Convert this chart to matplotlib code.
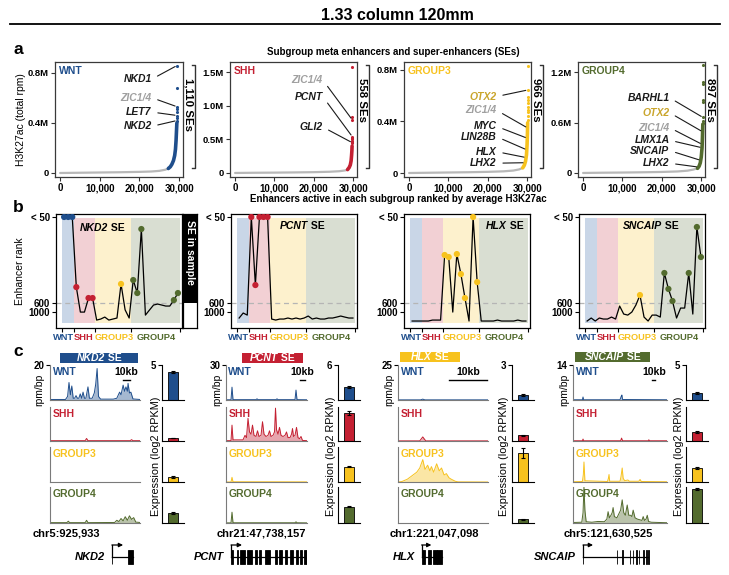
import numpy as np
import matplotlib
matplotlib.use('Agg')
import matplotlib.pyplot as plt
from matplotlib.patches import Rectangle
from matplotlib.lines import Line2D
from matplotlib.transforms import blended_transform_factory

plt.rcParams['font.family'] = ['Liberation Sans', 'DejaVu Sans']
plt.rcParams['axes.linewidth'] = 0.9

# ======================= DATA =======================
groups = ['WNT', 'SHH', 'GROUP3', 'GROUP4']

# ---- panel a: ranked enhancer signal (M total rpm) ----
a_x_ticks = [0, 10000, 20000, 30000]
a_x_ticklabels = ['0', '10,000', '20,000', '30,000']
a_y_ticks = [[0, 0.4, 0.8], [0, 0.5, 1.0, 1.5], [0, 0.4, 0.8], [0, 0.6, 1.2]]
a_y_ticklabels = [['0', '0.4M', '0.8M'], ['0', '0.5M', '1.0M', '1.5M'],
                  ['0', '0.4M', '0.8M'], ['0', '0.6M', '1.2M']]
a_y_lim = [(-0.032, 0.888), (-0.06, 1.65), (-0.031, 0.862), (-0.048, 1.32)]
se_count_labels = ['1,110 SEs', '558 SEs', '966 SEs', '897 SEs']

wnt_bg_rank = [0, 5000, 10000, 15000, 20000, 23000, 25000, 26500, 27300]
wnt_bg_signal = [0.0, 0.002, 0.004, 0.006, 0.009, 0.012, 0.017, 0.026, 0.036]
wnt_se_rank = [27300, 27800, 28200, 28600, 28900, 29100, 29250, 29350, 29450]
wnt_se_signal = [0.036, 0.05, 0.07, 0.10, 0.14, 0.19, 0.26, 0.33, 0.40]
wnt_top_signal = [0.86, 0.68, 0.53, 0.51, 0.49, 0.46, 0.44, 0.42]

shh_bg_rank = [0, 5000, 10000, 15000, 20000, 24000, 26500, 28000, 28600]
shh_bg_signal = [0.0, 0.003, 0.005, 0.008, 0.012, 0.018, 0.026, 0.038, 0.05]
shh_se_rank = [28600, 29000, 29300, 29500, 29620, 29700, 29750]
shh_se_signal = [0.05, 0.08, 0.12, 0.18, 0.26, 0.33, 0.40]
shh_top_signal = [1.58, 0.83, 0.79, 0.54, 0.52, 0.50, 0.48, 0.46, 0.44]

g3_bg_rank = [0, 5000, 10000, 15000, 20000, 24000, 26500, 28000, 28900]
g3_bg_signal = [0.0, 0.002, 0.004, 0.006, 0.009, 0.013, 0.019, 0.028, 0.04]
g3_se_rank = [28900, 29300, 29600, 29850, 30000, 30100, 30150]
g3_se_signal = [0.04, 0.06, 0.09, 0.14, 0.22, 0.31, 0.39]
g3_top_signal = [0.83, 0.645, 0.59, 0.57, 0.54, 0.51, 0.49, 0.47, 0.44, 0.41]

g4_bg_rank = [0, 5000, 10000, 15000, 20000, 24000, 26500, 28000, 29100]
g4_bg_signal = [0.0, 0.003, 0.005, 0.008, 0.012, 0.018, 0.027, 0.04, 0.055]
g4_se_rank = [29100, 29500, 29800, 30050, 30250, 30350, 30450]
g4_se_signal = [0.055, 0.08, 0.12, 0.19, 0.30, 0.42, 0.58]
g4_top_signal = [1.28, 1.08, 1.06, 0.87, 0.84, 0.67, 0.62, 0.60]

top_rank = [29500, 29800, 30200, 30500]

a_gene_names = [['NKD1', 'ZIC1/4', 'LET7', 'NKD2'],
                ['ZIC1/4', 'PCNT', 'GLI2'],
                ['OTX2', 'ZIC1/4', 'MYC', 'LIN28B', 'HLX', 'LHX2'],
                ['BARHL1', 'OTX2', 'ZIC1/4', 'LMX1A', 'SNCAIP', 'LHX2']]
a_gene_signal = [[0.86, 0.53, 0.46, 0.42],
                 [0.79, 0.54, 0.45],
                 [0.645, 0.35, 0.27, 0.18, 0.12, 0.08],
                 [0.66, 0.49, 0.34, 0.30, 0.15, 0.07]]

# ---- panel b: enhancer rank per sample ----
n_samples = [3, 5, 9, 12]
b_se_names = ['NKD2', 'PCNT', 'HLX', 'SNCAIP']
b_rank_nkd2 = [50, 50, 50, 498, 1000, 1000, 568, 568, 17800, 15650, 11500, 17800, 15650,
               13500, 478, 900, 13500, 453, 536, 127, 7330, 909, 688, 644, 688, 733, 733, 581, 536]
b_rank_pcnt = [13500, 2990, 7330, 50, 485, 50, 50, 50, 15650, 17800, 15650, 15650, 13500,
               15650, 13500, 15650, 13500, 9320, 15650, 13500, 15650, 15650, 13500, 13500,
               11500, 9320, 11500, 13500, 13500]
b_rank_hlx = [19800, 19800, 19800, 19800, 19800, 17800, 17800, 17800, 293, 306, 1000, 287,
              415, 568, 19800, 50, 466, 19800, 19800, 19800, 19800, 17800, 19800, 19800,
              19800, 19800, 17800, 19800, 19800]
b_rank_sncaip = [19800, 13500, 19800, 13500, 15650, 15650, 11500, 15650, 733, 5160, 7330,
                 1000, 688, 549, 11500, 19800, 7330, 7330, 11500, 408, 510, 587, 13500, 822,
                 822, 408, 5160, 114, 306]
rank_ticks = [50, 600, 1000]
rank_ticklabels = ['< 50', '600', '1000']

# ---- panel c: ChIP tracks (kb, rpm/bp), expression, gene models ----
c_genes = ['NKD2', 'PCNT', 'HLX', 'SNCAIP']
c_chr = ['chr5:925,933', 'chr21:47,738,157', 'chr1:221,047,098', 'chr5:121,630,525']
c_window_kb = [128, 162, 24, 300]
c_track_max = [20, 30, 25, 14]

nkd2_wnt_x = [0, 22, 25, 27, 29, 31, 33, 35, 37, 39, 41, 43, 45, 47, 49, 51, 54, 56, 60, 63,
              65, 67, 69, 72, 90, 95, 99, 101, 104, 106, 108, 110, 111, 113, 115, 118, 128]
nkd2_wnt_y = [0.3, 0.3, 2, 10, 3, 8, 1, 1, 2.5, 1, 1, 3.5, 1, 4.5, 1, 1, 7.5, 1, 1, 4,
              9, 18, 2, 0.5, 0.5, 1, 4.5, 3, 8.5, 5, 7.5, 5, 9.5, 4, 4.5, 0.6, 0.3]
nkd2_shh_x = [0, 50, 52, 54, 114, 116, 118, 128]
nkd2_shh_y = [0.2, 0.2, 1.5, 0.2, 0.2, 0.8, 0.2, 0.2]
nkd2_g3_x = [0, 128]
nkd2_g3_y = [0.1, 0.1]
nkd2_g4_x = [0, 24, 26, 28, 50, 52, 54, 92, 95, 98, 101, 104, 107, 110, 113, 116, 119, 122, 128]
nkd2_g4_y = [0.2, 0.2, 1.0, 0.2, 0.2, 1.5, 0.2, 0.3, 1.5, 0.8, 2.5, 1.2, 3.5, 1.5, 4, 2, 3, 0.5, 0.3]

pcnt_wnt_x = [0, 10, 12, 14, 60, 62, 64, 100, 102, 104, 138, 140, 142, 162]
pcnt_wnt_y = [0.2, 0.2, 11, 0.3, 0.3, 1.0, 0.3, 0.3, 1.0, 0.3, 0.3, 8.5, 0.3, 0.2]
pcnt_shh_x = [0, 10, 12, 14, 34, 38, 41, 44, 47, 50, 53, 56, 60, 63, 66, 70, 73, 76, 80, 84,
              87, 90, 94, 97, 99, 101, 104, 107, 110, 114, 118, 121, 124, 128, 131, 133, 135,
              138, 141, 144, 147, 150, 153, 162]
pcnt_shh_y = [0.3, 0.3, 14, 1, 1, 5, 3, 20, 8, 6, 14, 5, 4, 9, 4, 5, 17, 6, 4, 5,
              9, 4, 5, 8, 29, 10, 6, 12, 5, 4, 5, 8, 3, 3, 6, 11, 4,
              5, 12, 3, 2, 4, 0.5, 0.3]
pcnt_g3_x = [0, 10, 12, 14, 162]
pcnt_g3_y = [0, 0, 4, 0.2, 0.1]
pcnt_g4_x = [0, 10, 12, 14, 138, 140, 142, 162]
pcnt_g4_y = [0.1, 0.1, 9, 0.2, 0.2, 1.0, 0.2, 0.1]

hlx_wnt_x = [0, 6, 6.6, 7.2, 24]
hlx_wnt_y = [0.1, 0.1, 0.6, 0.1, 0.1]
hlx_shh_x = [0, 5.8, 6.6, 7.4, 24]
hlx_shh_y = [0.1, 0.1, 3, 0.1, 0.1]
hlx_g3_x = [0, 1, 2.5, 4, 5, 5.8, 6.6, 7.2, 7.9, 8.5, 8.9, 9.5, 10.3, 11, 11.6, 12.3, 12.9,
            13.6, 14.2, 15.3, 16, 24]
hlx_g3_y = [0, 0.3, 2, 5, 7, 10, 16, 9, 12, 8, 11, 7, 13, 8, 10, 5, 6, 3, 2, 0.5, 0.1, 0]
hlx_g4_x = [0, 24]
hlx_g4_y = [0, 0]

sncaip_wnt_x = [0, 30, 32, 34, 150, 154, 156, 158, 300]
sncaip_wnt_y = [0.1, 0.1, 1.2, 0.1, 0.1, 1.5, 2, 0.2, 0.1]
sncaip_shh_x = [0, 30, 32, 34, 152, 155, 158, 240, 242, 244, 300]
sncaip_shh_y = [0.1, 0.1, 0.8, 0.1, 0.1, 1.2, 0.1, 0.1, 0.5, 0.1, 0.1]
sncaip_g3_x = [0, 30, 33, 35, 38, 110, 113, 115, 117, 150, 153, 157, 160, 165, 175, 180, 210,
               214, 218, 300]
sncaip_g3_y = [0.1, 0.2, 3, 8, 0.5, 0.2, 1.5, 3, 0.3, 0.3, 2, 5.6, 1.5, 0.5, 0.8, 0.3, 0.3,
               1, 0.2, 0.1]
sncaip_g4_x = [0, 28, 32, 35, 38, 42, 60, 80, 100, 108, 112, 116, 121, 125, 128, 132, 140, 146,
               152, 157, 162, 167, 170, 173, 178, 184, 188, 192, 198, 206, 215, 220, 224, 228,
               233, 237, 241, 250, 300]
sncaip_g4_y = [0.2, 0.3, 4, 14, 5, 0.5, 0.3, 0.6, 0.5, 1.5, 4.4, 2, 3, 4, 6, 2.5, 2, 3.5,
               5, 9, 4, 3, 5, 7, 3, 3, 2.5, 5, 2, 1.5, 1.2, 1.0, 2.5, 1.0,
               1.5, 3, 0.6, 0.3, 0.1]

expr_max = [5, 6, 3, 5]
expr_nkd2 = [4.0, 0.43, 0.7, 1.4]
expr_pcnt = [2.2, 5.0, 2.6, 2.7]
expr_hlx = [0.43, 0.5, 2.5, 0.3]
expr_sncaip = [1.0, 1.3, 2.0, 4.7]
err_nkd2 = [0.15, 0.05, 0.1, 0.1]
err_pcnt = [0.15, 0.35, 0.1, 0.1]
err_hlx = [0.08, 0.05, 0.4, 0.03]
err_sncaip = [0.15, 0.1, 0.2, 0.15]

gene_tss = [88, 10, 6.3, 32]
gene_end = [118, 162, 11.6, 240]
gene_exons = [
    [(87.6, 88.4), (111, 118)],
    [(10, 14), (22, 24), (28, 38), (42, 51), (57, 61), (65, 69), (77, 87), (97, 101),
     (105, 111), (117, 121), (127, 133), (139, 143), (147, 152), (156, 162)],
    [(6.3, 7.1), (7.9, 8.9), (9.2, 10.3), (10.5, 11.6)],
    [(31, 33), (140, 142), (156, 158), (181, 183), (191, 193), (201, 203), (210, 212),
     (223, 225), (233, 235), (239, 241)],
]
gene_arrow_end = [104, 32, 8.9, 64]
scalebar_start_kb = [103.7, 148, 13.7, 253]
scalebar_kb = 10

# ======================= STYLE / LAYOUT =======================
group_colors = ['#1f4e8c', '#c42032', '#f7c21e', '#536b2e']
band_colors = ['#c9d6e7', '#f2d0d4', '#fdf1cd', '#d9ded2']
special_colors = {'ZIC1/4': '#a0a0a0', 'OTX2': '#c9a52c'}

W, H = 729, 575
fig = plt.figure(figsize=(W / 100, H / 100), dpi=100)
renderer = fig.canvas.get_renderer()


def fx(x):
    return x / W


def fy(y):
    return 1 - y / H


def px_axes(x0, y0, x1, y1):
    return fig.add_axes([x0 / W, 1 - y1 / H, (x1 - x0) / W, (y1 - y0) / H])


def two_part(xpx, ypx, s1, s2, ha='left', color='k', fs=7.5):
    t1 = fig.text(fx(xpx), fy(ypx), s1, fontsize=fs, fontweight='bold', style='italic',
                  color=color, ha='left', va='center', zorder=20)
    t2 = fig.text(fx(xpx), fy(ypx), '\u00a0' + s2, fontsize=fs, fontweight='bold',
                  color=color, ha='left', va='center', zorder=20)
    w1 = t1.get_window_extent(renderer).width
    w2 = t2.get_window_extent(renderer).width
    x0 = xpx - (w1 + w2) / 2 if ha == 'center' else xpx
    t1.set_x(fx(x0))
    t2.set_x(fx(x0 + w1))


# ---- title ----
fig.text(fx(397), fy(15), '1.33 column 120mm', ha='center', va='center', fontsize=11.5,
         fontweight='bold')
fig.add_artist(Line2D([fx(10), fx(720)], [fy(24), fy(24)], color='k', lw=1.3))

for letter, ypx in [('a', 50), ('b', 207), ('c', 352)]:
    fig.text(fx(18), fy(ypx), letter, ha='center', va='center', fontsize=12.5,
             fontweight='bold')

# ======================= PANEL A =======================
fig.text(fx(393), fy(52), 'Subgroup meta enhancers and super-enhancers (SEs)', ha='center',
         va='center', fontsize=7, fontweight='bold')
fig.text(fx(398), fy(199), 'Enhancers active in each subgroup ranked by average H3K27ac',
         ha='center', va='center', fontsize=7, fontweight='bold')

a_boxes = [(55, 62, 183, 177), (230, 62, 357, 177), (404, 62, 531, 177), (578, 62, 705, 177)]
a_bg = [(wnt_bg_rank, wnt_bg_signal), (shh_bg_rank, shh_bg_signal),
        (g3_bg_rank, g3_bg_signal), (g4_bg_rank, g4_bg_signal)]
a_se = [(wnt_se_rank, wnt_se_signal), (shh_se_rank, shh_se_signal),
        (g3_se_rank, g3_se_signal), (g4_se_rank, g4_se_signal)]
a_top = [wnt_top_signal, shh_top_signal, g3_top_signal, g4_top_signal]
a_label_x = [0.755, 0.73, 0.73, 0.72]
a_label_y = [[0.85, 0.69, 0.565, 0.44], [0.845, 0.70, 0.435],
             [0.70, 0.58, 0.44, 0.35, 0.22, 0.12], [0.69, 0.56, 0.43, 0.32, 0.23, 0.12]]

for g in range(4):
    ax = px_axes(*a_boxes[g])
    c = group_colors[g]
    ax.plot(a_bg[g][0], a_bg[g][1], color='#b8b8b8', lw=1.6, solid_capstyle='round', zorder=2)
    ax.plot(a_se[g][0], a_se[g][1], color=c, lw=2.6, solid_capstyle='round', zorder=3)
    ax.scatter([top_rank[g]] * len(a_top[g]), a_top[g], s=5, color=c, lw=0, zorder=4)
    ax.set_xlim(-1300, 31000)
    ax.set_ylim(*a_y_lim[g])
    ax.set_xticks(a_x_ticks)
    ax.set_xticklabels(a_x_ticklabels, fontsize=7, fontweight='bold')
    ax.set_yticks(a_y_ticks[g])
    ax.set_yticklabels(a_y_ticklabels[g], fontsize=6.8, fontweight='bold')
    ax.tick_params(length=3, width=0.8, pad=1.5, color='#333333')
    for s in ax.spines.values():
        s.set_color('#3a3a3a')
    ax.text(0.03, 0.965, groups[g], transform=ax.transAxes, ha='left', va='top', fontsize=7.5,
            fontweight='bold', color=c)
    if g == 0:
        ax.set_ylabel('H3K27ac (total rpm)', fontsize=7.5, labelpad=1)
    # bracket + count
    bx = 1.095
    yb0, yb1 = (177 - 168) / 115, (177 - 65) / 115
    ax.plot([bx - 0.025, bx, bx, bx - 0.025], [yb1, yb1, yb0, yb0], transform=ax.transAxes,
            clip_on=False, color='#333333', lw=1.0)
    ax.text(1.04, 0.86, se_count_labels[g], rotation=-90, transform=ax.transAxes, ha='center',
            va='top', fontsize=8.2, fontweight='bold')
    # gene annotations
    se_r, se_s = a_se[g]
    for name, sig, ly in zip(a_gene_names[g], a_gene_signal[g], a_label_y[g]):
        if sig >= max(se_s):
            tx = top_rank[g]
        else:
            tx = float(np.interp(sig, se_s, se_r))
        ax.annotate(name, xy=(tx, sig), xycoords='data', xytext=(a_label_x[g], ly),
                    textcoords='axes fraction', ha='right', va='center', fontsize=7.5,
                    fontweight='bold', style='italic', color=special_colors.get(name, '#1a1a1a'),
                    arrowprops=dict(arrowstyle='-', color='#1a1a1a', lw=0.8, shrinkA=2.5,
                                    shrinkB=1.5, relpos=(1, 0.5)), zorder=5)

# ======================= PANEL B =======================
rank_knots = [10, 50, 600, 1000, 20000, 100000]
pos_knots = [-1.073, -1.0, 0.0, 0.105, 0.21, 0.35]


def r2p(r):
    return np.interp(r, rank_knots, pos_knots)


def p2r(p):
    return np.interp(p, pos_knots, rank_knots)


b_boxes = [(56, 214, 182, 328), (231, 214, 357, 328), (404, 214, 530, 328), (579, 214, 705, 328)]
b_ranks = [b_rank_nkd2, b_rank_pcnt, b_rank_hlx, b_rank_sncaip]
b_title_px = [(80, 228), (280, 226), (486, 226), (623, 226)]
sample_x = np.arange(sum(n_samples))
bounds = np.concatenate([[0], np.cumsum(n_samples)]) - 0.5
sample_group = np.repeat(np.arange(4), n_samples)

for k in range(4):
    ax = px_axes(*b_boxes[k])
    ax.set_yscale('function', functions=(r2p, p2r))
    ax.set_xlim(-2.0, 29.0)
    ax.set_ylim(65700, 31)
    for g in range(4):
        ax.axvspan(bounds[g], bounds[g + 1], ymin=0.044, ymax=0.965, color=band_colors[g],
                   lw=0, zorder=0)
    ax.axhline(600, color='#b5b5b5', lw=0.9, ls=(0, (4, 3)), zorder=1)
    r = np.array(b_ranks[k], dtype=float)
    ax.plot(sample_x, r, color='k', lw=0.9, zorder=3)
    m = r <= 600
    ax.scatter(sample_x[m], r[m], s=20, c=[group_colors[g] for g in sample_group[m]], lw=0,
               zorder=4)
    ax.set_xticks(bounds)
    ax.set_xticklabels([])
    ax.set_yticks(rank_ticks)
    ax.set_yticklabels(rank_ticklabels, fontsize=7, fontweight='bold')
    ax.minorticks_off()
    ax.tick_params(length=3, width=0.8, pad=1.5)
    trans = blended_transform_factory(ax.transData, ax.transAxes)
    lab_kw = dict(transform=trans, va='center', fontsize=6.7, fontweight='bold')
    ax.text(2.5, -0.085, 'WNT', ha='right', color=group_colors[0], **lab_kw)
    ax.text(2.4, -0.085, 'SHH', ha='left', color=group_colors[1], **lab_kw)
    ax.text(12.4, -0.085, 'GROUP3', ha='center', color=group_colors[2], **lab_kw)
    ax.text(22.6, -0.085, 'GROUP4', ha='center', color=group_colors[3], **lab_kw)
    if k == 0:
        ax.set_ylabel('Enhancer rank', fontsize=7.5, labelpad=2)
    two_part(b_title_px[k][0], b_title_px[k][1], b_se_names[k], 'SE', fs=7.5)

# SE in sample bar
ax = px_axes(183, 214, 197, 328)
ax.set_xlim(0, 1)
ax.set_ylim(0, 1)
ax.add_patch(Rectangle((0, (328 - 303) / 114), 1, 1, facecolor='k', edgecolor='none'))
ax.text(0.5, 0.665, 'SE in sample', rotation=-90, color='white', ha='center', va='center',
        fontsize=7.5, fontweight='bold')
ax.set_xticks([])
ax.set_yticks([])

# ======================= PANEL C =======================
track_x = [(50, 140), (226, 307), (398, 488), (573, 667)]
track_rows = [(365, 400), (407, 441), (447, 482), (487, 523)]
bar_x = [(162, 184), (338, 360), (512, 534), (686, 708)]
header_px = [(60, 353, 138, 363), (242, 353, 303, 363), (400, 352, 460, 362),
             (575, 352, 650, 362)]
chr_left_px = [33, 217, 390, 564]
rpm_label_x = [39, 217, 389, 564]
expr_label_x = [156, 331, 504, 679]

c_tracks = [
    [(nkd2_wnt_x, nkd2_wnt_y), (nkd2_shh_x, nkd2_shh_y), (nkd2_g3_x, nkd2_g3_y), (nkd2_g4_x, nkd2_g4_y)],
    [(pcnt_wnt_x, pcnt_wnt_y), (pcnt_shh_x, pcnt_shh_y), (pcnt_g3_x, pcnt_g3_y), (pcnt_g4_x, pcnt_g4_y)],
    [(hlx_wnt_x, hlx_wnt_y), (hlx_shh_x, hlx_shh_y), (hlx_g3_x, hlx_g3_y), (hlx_g4_x, hlx_g4_y)],
    [(sncaip_wnt_x, sncaip_wnt_y), (sncaip_shh_x, sncaip_shh_y), (sncaip_g3_x, sncaip_g3_y),
     (sncaip_g4_x, sncaip_g4_y)],
]
c_expr = [expr_nkd2, expr_pcnt, expr_hlx, expr_sncaip]
c_err = [err_nkd2, err_pcnt, err_hlx, err_sncaip]

for k in range(4):
    x0, x1 = track_x[k]
    # header
    hx0, hy0, hx1, hy1 = header_px[k]
    fig.add_artist(Rectangle((fx(hx0), fy(hy1)), (hx1 - hx0) / W, (hy1 - hy0) / H,
                             transform=fig.transFigure, facecolor=group_colors[k],
                             edgecolor='none', zorder=5))
    two_part((hx0 + hx1) / 2, (hy0 + hy1) / 2, c_genes[k], 'SE', ha='center', color='white',
             fs=7.5)
    for g in range(4):
        y0, y1 = track_rows[g]
        ax = px_axes(x0, y0, x1, y1)
        xs, ys = c_tracks[k][g]
        col = group_colors[g]
        ax.fill_between(xs, 0, ys, color=col, alpha=0.4, lw=0)
        ax.plot(xs, ys, color=col, lw=0.7)
        ax.set_xlim(0, c_window_kb[k])
        ax.set_ylim(0, c_track_max[k])
        for s in ['top', 'right']:
            ax.spines[s].set_visible(False)
        for s in ['left', 'bottom']:
            ax.spines[s].set_color('#7a7a7a')
            ax.spines[s].set_linewidth(0.8)
        ax.set_xticks([])
        if g == 0:
            ax.set_yticks([c_track_max[k]])
            ax.set_yticklabels([str(c_track_max[k])], fontsize=7, fontweight='bold')
            ax.tick_params(axis='y', length=3, width=0.8, pad=1)
            trans = blended_transform_factory(ax.transData, ax.transAxes)
            sb0 = scalebar_start_kb[k]
            ax.plot([sb0, sb0 + scalebar_kb], [0.57, 0.57], transform=trans, color='k', lw=1.0,
                    clip_on=False)
            ax.text(sb0 + scalebar_kb / 2, 0.8, '10kb', transform=trans, ha='center',
                    va='center', fontsize=7.5, fontweight='bold')
        else:
            ax.set_yticks([])
        ax.text(0.03, 0.95, groups[g], transform=ax.transAxes, ha='left', va='top',
                fontsize=7.5, fontweight='bold', color=col)

        # expression bar
        bx0, bx1 = bar_x[k]
        bax = px_axes(bx0, y0, bx1, y1)
        bax.bar([0], [c_expr[k][g]], width=1.0, color=col, edgecolor='k', lw=0.6)
        bax.errorbar([0], [c_expr[k][g]], yerr=[c_err[k][g]], color='k', capsize=1.5, lw=0.8,
                     capthick=0.8)
        bax.set_xlim(-1.1, 1.1)
        bax.set_ylim(0, expr_max[k])
        for s in ['top', 'right']:
            bax.spines[s].set_visible(False)
        for s in ['left', 'bottom']:
            bax.spines[s].set_linewidth(0.8)
        bax.set_xticks([])
        if g == 0:
            bax.set_yticks([expr_max[k]])
            bax.set_yticklabels([str(expr_max[k])], fontsize=7, fontweight='bold')
            bax.tick_params(axis='y', length=3, width=0.8, pad=1)
        else:
            bax.set_yticks([])

    fig.text(fx(rpm_label_x[k]), fy(390), 'rpm/bp', rotation=90, ha='center', va='center',
             fontsize=7.5)
    fig.text(fx(expr_label_x[k]), fy(456), 'Expression (log2 RPKM)', rotation=90, ha='center',
             va='center', fontsize=7.8)
    fig.text(fx(chr_left_px[k]), fy(534), c_chr[k], ha='left', va='center', fontsize=8,
             fontweight='bold')

    # gene model
    gax = px_axes(x0, 537, x1, 577)
    gax.set_xlim(0, c_window_kb[k])
    gax.set_ylim(-2, 2)
    gax.axis('off')
    tss = gene_tss[k]
    gax.plot([tss, gene_end[k]], [0, 0], color='k', lw=0.9)
    for (s, e) in gene_exons[k]:
        gax.add_patch(Rectangle((s, -0.7), e - s, 1.4, facecolor='k', edgecolor='k', lw=0.6))
    gax.plot([tss, tss], [0, 1.2], color='k', lw=0.9)
    gax.annotate('', xy=(gene_arrow_end[k], 1.2), xytext=(tss, 1.2),
                 arrowprops=dict(arrowstyle='-|>', color='k', lw=0.9, mutation_scale=6,
                                 shrinkA=0, shrinkB=0))
    gax.annotate(c_genes[k], xy=(tss, 0), xytext=(-5, 0), textcoords='offset points',
                 ha='right', va='center', fontsize=8, fontweight='bold', style='italic',
                 annotation_clip=False)

fig.savefig('out.png', dpi=100)
